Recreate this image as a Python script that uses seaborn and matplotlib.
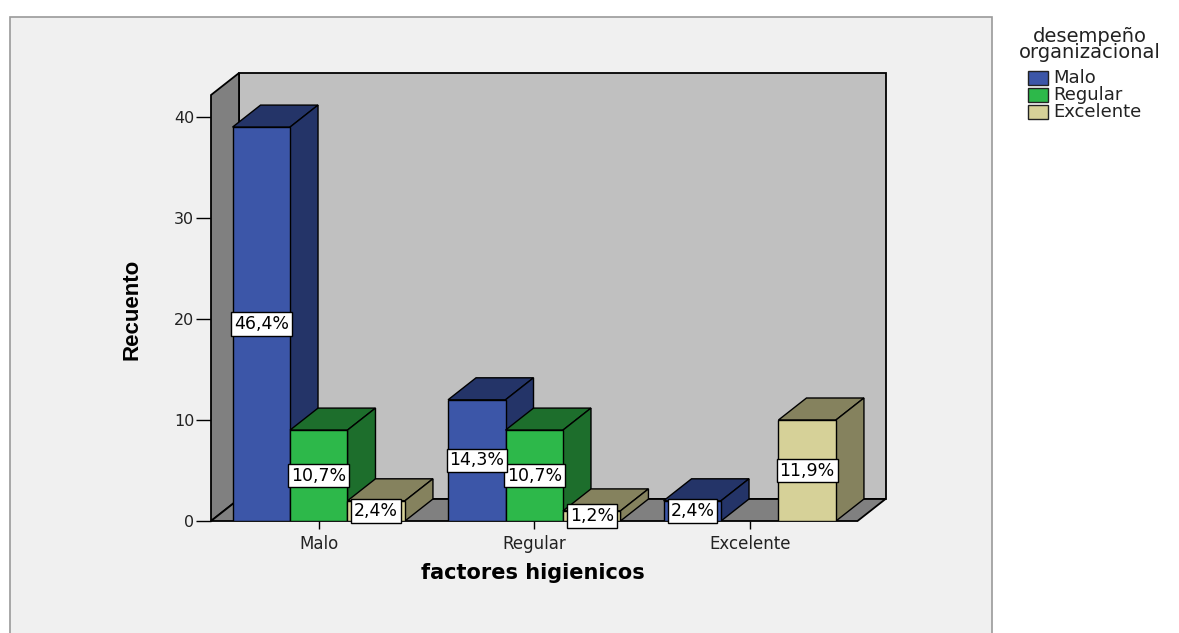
import matplotlib
matplotlib.use("Agg")
import matplotlib.pyplot as plt
from matplotlib.patches import Polygon, Rectangle
import seaborn as sns
import pandas as pd

# ---- data ----
categories = ["Malo", "Regular", "Excelente"]
series = ["Malo", "Regular", "Excelente"]
counts_malo = [39, 12, 2]
counts_regular = [9, 9, 0]
counts_excelente = [2, 1, 10]
pct_malo = ["46,4%", "14,3%", "2,4%"]
pct_regular = ["10,7%", "10,7%", ""]
pct_excelente = ["2,4%", "1,2%", "11,9%"]
yticks = [0, 10, 20, 30, 40]
xlabel = "factores higienicos"
ylabel = "Recuento"
legend_title = ["desempeño", "organizacional"]

front_colors = ["#3c56a8", "#2db84a", "#d6d198"]
dark_colors = ["#243468", "#1d6e2c", "#85825e"]

sns.set_style("white")
plt.rcParams["font.family"] = ["DejaVu Sans"]
narrow = ["Liberation Sans", "DejaVu Sans"]

rows = []
for s, vals, labs in zip(series, [counts_malo, counts_regular, counts_excelente],
                         [pct_malo, pct_regular, pct_excelente]):
    for c, v, l in zip(categories, vals, labs):
        rows.append({"factor": c, "desempeno": s, "count": v, "pct": l})
df = pd.DataFrame(rows)

W, H = 1179, 633
fig = plt.figure(figsize=(W / 100, H / 100), dpi=100)
fig.patch.set_facecolor("white")
# outer chart frame
fig.add_artist(Rectangle((10 / W, -0.01), 982 / W, 1 - 17 / H + 0.01,
                         transform=fig.transFigure, facecolor="#f0f0f0",
                         edgecolor="#9a9a9a", linewidth=1.2, zorder=-10))

ymax = 45.0
xlo, xhi = -0.5, 2.7
ppc = 215.5  # px per category
ppu = 10.1   # px per unit
left_px, bottom_px = 211, 521
ax = fig.add_axes([left_px / W, 1 - bottom_px / H, (xhi - xlo) * ppc / W, ymax * ppu / H])
ax.set_facecolor("none")

sns.barplot(data=df, x="factor", y="count", hue="desempeno", order=categories,
            hue_order=series, palette=front_colors, edgecolor="black", linewidth=1.0,
            saturation=1, width=0.8, ax=ax, legend=False, errorbar=None)

dx = 28 / ppc
dy = 22 / ppu
top_wall = (521 - 73) / ppu

# walls and floor
ax.add_patch(Rectangle((xlo + dx, dy), 3.0, top_wall - dy, facecolor="#c0c0c0",
                       edgecolor="black", linewidth=1.3, zorder=0.5, clip_on=False))
ax.add_patch(Polygon([(xlo, 0), (xlo, top_wall - dy), (xlo + dx, top_wall), (xlo + dx, dy)],
                     closed=True, facecolor="#808080", edgecolor="black", linewidth=1.3,
                     zorder=0.6, clip_on=False))
ax.add_patch(Polygon([(xlo, 0), (2.5, 0), (2.5 + dx, dy), (xlo + dx, dy)], closed=True,
                     facecolor="#808080", edgecolor="black", linewidth=1.3, zorder=0.7,
                     clip_on=False))

# 3D faces for bars
bars = []
for hi, cont in enumerate(ax.containers):
    for ci, p in enumerate(cont.patches):
        bars.append((p.get_x(), hi, ci, p))
bars.sort(key=lambda t: t[0])
label_items = []
for rank, (x0, hi, ci, p) in enumerate(bars):
    h = p.get_height()
    w = p.get_width()
    if h <= 0:
        p.set_visible(False)
        continue
    z = 2 + rank * 0.1
    top = Polygon([(x0, h), (x0 + dx, h + dy), (x0 + w + dx, h + dy), (x0 + w, h)],
                  closed=True, facecolor=dark_colors[hi], edgecolor="black", linewidth=1.0,
                  zorder=z)
    side = Polygon([(x0 + w, 0), (x0 + w, h), (x0 + w + dx, h + dy), (x0 + w + dx, dy)],
                   closed=True, facecolor=dark_colors[hi], edgecolor="black", linewidth=1.0,
                   zorder=z)
    ax.add_patch(top)
    ax.add_patch(side)
    p.set_zorder(z + 0.05)
    lab = df[(df.desempeno == series[hi]) & (df.factor == categories[ci])]["pct"].iloc[0]
    label_items.append((x0 + w / 2, h / 2, lab, hi))

for xc, yc, lab, hi in label_items:
    if not lab:
        continue
    ax.text(xc, yc, lab, ha="center", va="center", fontsize=12.5, color="black",
            zorder=20 + (2 - hi),
            bbox=dict(boxstyle="square,pad=0.16", facecolor="white", edgecolor="black",
                      linewidth=1.0))

ax.set_xlim(xlo, xhi)
ax.set_ylim(0, ymax)
ax.set_yticks(yticks)
ax.set_yticklabels([str(t) for t in yticks])
for s in ax.spines.values():
    s.set_visible(False)
ax.tick_params(axis="y", direction="out", length=10.5, width=1, pad=1.5,
               labelsize=11.5, colors="black", left=True)
ax.tick_params(axis="x", direction="out", length=6, width=1, pad=4,
               labelsize=12, colors="black", bottom=True)
for t in ax.get_xticklabels() + ax.get_yticklabels():
    t.set_color("#222222")
ax.set_xlabel("")
ax.set_ylabel("")

fig.text(533 / W, 1 - 573 / H, xlabel, ha="center", va="center", fontsize=15,
         fontweight="bold", color="black")
fig.text(132 / W, 1 - 309 / H, ylabel, ha="center", va="center", rotation=90,
         fontsize=16, fontweight="bold", color="black", family=narrow)

# legend
for k, line in enumerate(legend_title):
    fig.text(1090 / W, 1 - (36 + 17 * k) / H, line, ha="center", va="center",
             fontsize=14, color="#222222")
for i, s in enumerate(series):
    yc = 78 + 17 * i
    fig.add_artist(Rectangle((1028 / W, 1 - (yc + 7) / H), 20 / W, 14 / H,
                             transform=fig.transFigure, facecolor=front_colors[i],
                             edgecolor="#222222", linewidth=1.0))
    fig.text(1053 / W, 1 - yc / H, s, ha="left", va="center", fontsize=13, color="#222222")

fig.savefig("out.png", dpi=100)
